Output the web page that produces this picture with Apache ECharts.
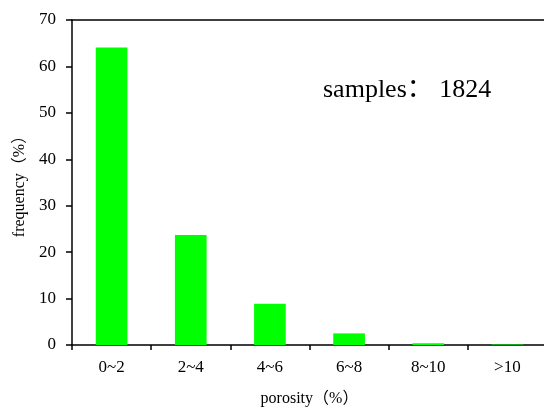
<!DOCTYPE html>
<html>
<head>
<meta charset="utf-8">
<script src="https://cdn.jsdelivr.net/npm/echarts@6/dist/echarts.min.js"></script>
<style>
  html, body { margin: 0; padding: 0; background: #fff; }
  #container { width: 544px; height: 409px; }
</style>
</head>
<body>
<div id="container"></div>
<script>
  var categories = ['0~2', '2~4', '4~6', '6~8', '8~10', '>10'];
  var frequency = [64.1, 23.7, 8.9, 2.5, 0.4, 0.1];
  var sampleCount = 1824;

  var serif = '"Liberation Serif", "Times New Roman", "Noto Sans CJK SC", serif';

  var dom = document.getElementById('container');
  var myChart = echarts.init(dom, null, { renderer: 'canvas' });

  var option = {
    animation: false,
    grid: {
      left: 72,
      right: -3,
      top: 20,
      bottom: 64,
      outerBoundsMode: 'none'
    },
    graphic: [
      {
        type: 'text',
        left: 323,
        top: 77,
        style: {
          text: 'samples： ' + sampleCount,
          font: '26px ' + serif,
          fill: '#000'
        }
      }
    ],
    xAxis: [
      {
        type: 'category',
        data: categories,
        boundaryGap: true,
        name: 'porosity（%）',
        nameLocation: 'middle',
        nameGap: 46,
        nameTextStyle: { fontFamily: serif, fontSize: 16, color: '#000' },
        axisLine: { lineStyle: { color: '#000', width: 1.5 } },
        axisTick: { show: true, length: 5, lineStyle: { color: '#000', width: 1.5 } },
        axisLabel: { fontFamily: serif, fontSize: 17, color: '#000', margin: 14 }
      },
      {
        type: 'category',
        data: categories,
        position: 'top',
        axisLine: { show: true, lineStyle: { color: '#000', width: 1.5 } },
        axisTick: { show: false },
        axisLabel: { show: false }
      }
    ],
    yAxis: {
      type: 'value',
      min: 0,
      max: 70,
      interval: 10,
      name: 'frequency（%）',
      nameLocation: 'middle',
      nameGap: 41,
      nameTextStyle: { fontFamily: serif, fontSize: 16, color: '#000' },
      splitLine: { show: false },
      axisLine: { show: true, lineStyle: { color: '#000', width: 1.5 } },
      axisTick: { show: true, length: 6, lineStyle: { color: '#000', width: 1.5 } },
      axisLabel: { fontFamily: serif, fontSize: 17, color: '#000', margin: 16 }
    },
    series: [
      {
        type: 'bar',
        data: frequency,
        barWidth: '40%',
        itemStyle: { color: '#00ff00' }
      }
    ]
  };

  myChart.setOption(option);
  window.addEventListener('resize', myChart.resize);
</script>
</body>
</html>
